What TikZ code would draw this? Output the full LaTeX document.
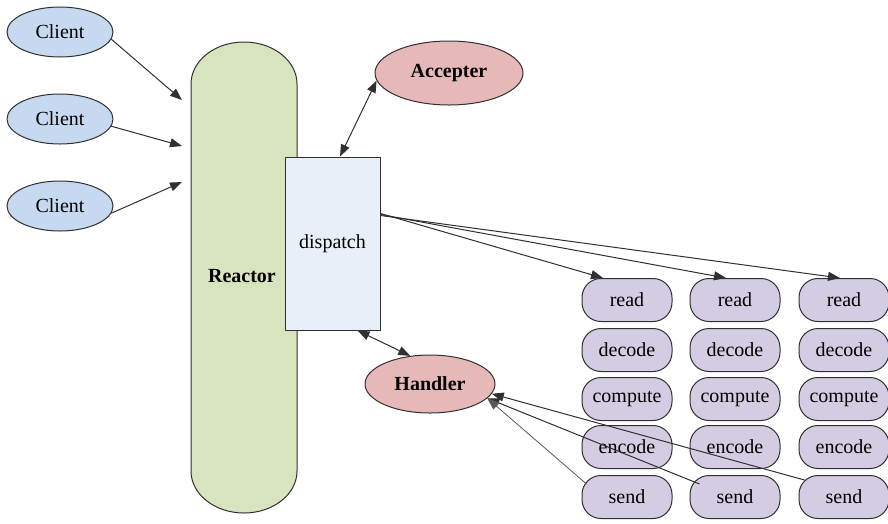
\documentclass[tikz,border=0pt]{standalone}
\usepackage{fontspec}
\setmainfont{Liberation Serif}
\usetikzlibrary{shapes.geometric,arrows.meta}
\definecolor{lineclr}{HTML}{303030}
\definecolor{clientfill}{HTML}{C6D9F1}
\definecolor{redfill}{HTML}{E6B9B8}
\definecolor{reactorfill}{HTML}{D7E4BD}
\definecolor{dispfill}{HTML}{E9EFF8}
\definecolor{taskfill}{HTML}{D4CCE3}
\tikzset{
  base/.style={draw=lineclr, line width=1pt, text=black, inner sep=0pt,
    font=\fontsize{20}{24}\selectfont},
  client/.style={base, ellipse, fill=clientfill, minimum width=106pt, minimum height=50pt},
  redell/.style={base, ellipse, fill=redfill, font=\fontsize{20}{24}\selectfont\bfseries},
  dispbox/.style={base, rectangle, fill=dispfill, minimum width=95pt, minimum height=173pt},
  task/.style={base, rectangle, rounded corners=19pt, fill=taskfill, minimum width=90pt, minimum height=43pt},
  conn/.style={draw=lineclr, line width=1pt, -{Triangle[length=12pt,width=9pt]}},
  biconn/.style={draw=lineclr, line width=1pt, {Triangle[length=12pt,width=9pt]}-{Triangle[length=12pt,width=9pt]}},
  thinconn/.style={draw=lineclr!80, line width=0.8pt, -{Triangle[length=12pt,width=9pt]}}
}
\begin{document}
\begin{tikzpicture}[x=1pt,y=-1pt]
\useasboundingbox (0,0) rectangle (888,523);

% clients
\node[client] (c1) at (60,32) {Client};
\node[client] (c2) at (60,119) {Client};
\node[client] (c3) at (60,206) {Client};

% reactor column (y axis points down, so arc angles run the other way)
\path[draw=lineclr, line width=1pt, fill=reactorfill]
  (191,84) -- (191,471)
  arc[start angle=180, end angle=0, x radius=53, y radius=42]
  -- (297,84)
  arc[start angle=0, end angle=-180, x radius=53, y radius=42] -- cycle;
\node[font=\fontsize{20}{24}\selectfont\bfseries] (reactor) at (242,276) {Reactor};

% entry points on the reactor side
\coordinate (in1) at (182,100);
\coordinate (in2) at (182,146);
\coordinate (in3) at (182,182);

% dispatcher
\node[dispbox] (disp) at (332.5,243.5) {dispatch};

% acceptor and handler
\node[redell, minimum width=148pt, minimum height=64pt] (acc) at (449,73) {Accepter};
\node[redell, minimum width=130pt, minimum height=58pt] (hand) at (430,384) {Handler};

% worker pipelines
\foreach \col/\x in {1/627,2/735,3/844}{
  \node[task] (r\col) at (\x,300) {read};
  \node[task] (d\col) at (\x,350) {decode};
  \node[task] (m\col) at (\x,399) {compute};
  \node[task] (e\col) at (\x,447) {encode};
  \node[task] (s\col) at (\x,497) {send};
}

% client connections
\draw[conn] (c1.-8) -- (in1);
\draw[conn] (c2.-8) -- (in2);
\draw[conn] (c3.-8) -- (in3);

% dispatcher links
\draw[biconn] ([xshift=7.5pt]disp.north) -- (acc.186);
\draw[biconn] ([xshift=25pt]disp.south) -- (hand.125);
\draw[conn] ([yshift=-57pt]disp.north east) -- ([xshift=-24pt]r1.north);
\draw[conn] ([yshift=-58pt]disp.north east) -- ([xshift=-9pt]r2.north);
\draw[conn] ([yshift=-59pt]disp.north east) -- ([xshift=-4pt]r3.north);

% results back to the handler
\draw[conn] ([xshift=6pt,yshift=17pt]s3.west) -- (hand.-9);
\draw[conn] ([xshift=10pt,yshift=13pt]s2.west) -- (hand.-14);
\draw[thinconn] ([xshift=5pt,yshift=13pt]s1.west) -- (hand.-14);
\end{tikzpicture}
\end{document}
